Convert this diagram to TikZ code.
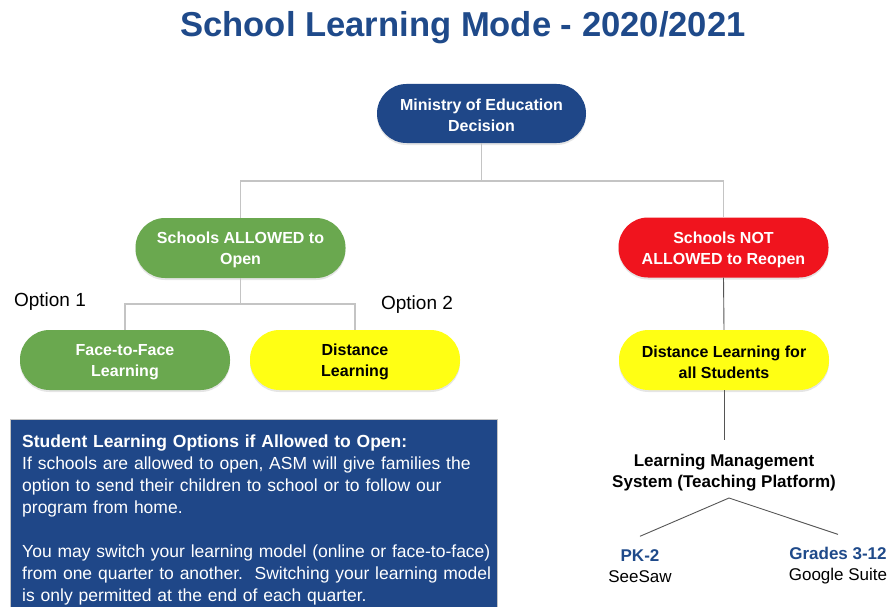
\documentclass[tikz,border=0pt]{standalone}
\usepackage{fontspec}
\setmainfont{Liberation Sans}
\usetikzlibrary{shadows}
\definecolor{mblue}{HTML}{1F4788}
\definecolor{tblue}{HTML}{1F4A8A}
\definecolor{mgreen}{HTML}{6AA84F}
\definecolor{mred}{HTML}{F0141E}
\definecolor{myellow}{HTML}{FFFF14}
\definecolor{lgray}{HTML}{C4C4C4}
\definecolor{dgray}{HTML}{555555}
\tikzset{
  pill/.style={rectangle, rounded corners=29.5pt, minimum width=210pt, minimum height=60pt,
    align=center, font=\fontsize{16}{21}\selectfont\bfseries, inner sep=0pt, text height=36.5pt,
    drop shadow={opacity=0.2, shadow xshift=0pt, shadow yshift=-2pt}},
  bluep/.style={pill, fill=mblue, text=white},
  greenp/.style={pill, fill=mgreen, text=white},
  redp/.style={pill, fill=mred, text=white},
  yellowp/.style={pill, fill=myellow, text=black},
  gl/.style={draw=lgray, line width=1.2pt},
  dl/.style={draw=dgray, line width=0.9pt},
  opt/.style={font=\fontsize{19}{23}\selectfont, anchor=base},
  sub/.style={align=center, inner sep=0pt, font=\fontsize{17}{21}\selectfont}
}
\begin{document}
\begin{tikzpicture}[x=1pt, y=-1pt]
\useasboundingbox (0,0) rectangle (891,607);
\fill[white] (0,0) rectangle (891,607);

\node[anchor=base, text=tblue, font=\fontsize{34.6}{40}\selectfont\bfseries] (title) at (463,37) {School Learning Mode - 2020/2021};

\node[bluep, minimum width=209pt, minimum height=59pt] (min) at (481.5,113.5) {Ministry of Education\\Decision};
\node[greenp] (allow) at (240.5,248) {Schools ALLOWED to\\Open};
\node[redp] (notal) at (723.5,247.5) {Schools NOT\\ALLOWED to Reopen};
\node[greenp] (face) at (125,360) {Face-to-Face\\Learning};
\node[yellowp] (dist) at (355,360) {Distance\\Learning};
\node[yellowp] (distall) at (724,360) {Distance Learning for\\all Students};

\node[opt] (opt1) at (50,306) {Option 1};
\node[opt] (opt2) at (417,309) {Option 2};

\coordinate (j1) at (481.5,181);
\coordinate (j2) at (240.5,304);
\draw[gl] (min.south) -- (j1);
\draw[gl] (j1) -| (allow.north);
\draw[gl] (j1) -| (notal.north);
\draw[gl] (allow.south) -- (j2);
\draw[gl] (j2) -| (face.north);
\draw[gl] (j2) -| (dist.north);

\draw[dl] (notal.south) -- (distall.north);

\node[sub, font=\fontsize{17}{21}\selectfont\bfseries] (lms) at (724,473) {Learning Management\\System (Teaching Platform)};
\draw[dl] (distall.south) -- ([yshift=14pt]lms.north);

\coordinate (apex) at (729,498);
\node[sub] (pk) at (640,566) {\textcolor{tblue}{\bfseries PK-2}\\SeeSaw};
\node[sub] (gr) at (838,566) {\textcolor{tblue}{\bfseries Grades 3-12}\\Google Suite};
\draw[dl] (apex) -- ([yshift=13pt]pk.north);
\draw[dl] (apex) -- ([yshift=13pt]gr.north);

\draw[fill=mblue, draw=lgray, line width=1pt] (10,419.5) rectangle (497,612);
\node[anchor=north west, inner sep=0pt, text=white, align=left, text width=475pt,
  font=\fontsize{17.5}{22}\selectfont] (box) at (22,435)
  {{\bfseries Student Learning Options if Allowed to Open:}\\
   If schools are allowed to open, ASM will give families the\\
   option to send their children to school or to follow our\\
   program from home.\\[22pt]
   You may switch your learning model (online or face-to-face)\\
   from one quarter to another.\ \ Switching your learning model\\
   is only permitted at the end of each quarter.};
\end{tikzpicture}
\end{document}
